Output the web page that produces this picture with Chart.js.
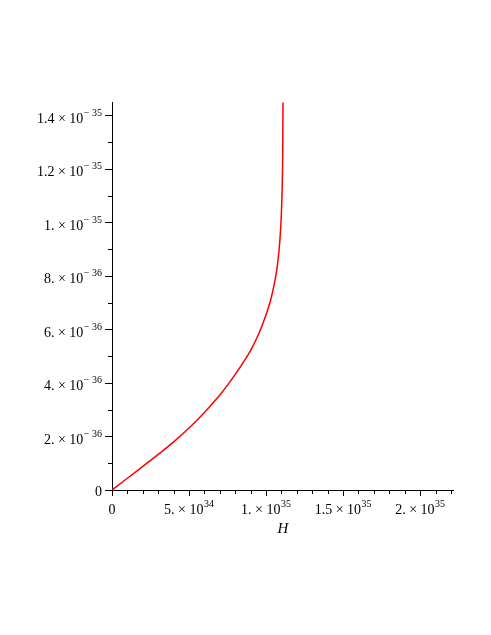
<!DOCTYPE html>
<html>
<head>
<meta charset="utf-8">
<script src="https://cdn.jsdelivr.net/npm/chart.js@4.4.1/dist/chart.umd.min.js"></script>
<style>
  html, body { margin: 0; padding: 0; background: #fff; }
  #wrap { width: 491px; height: 635px; }
</style>
</head>
<body>
<div id="wrap"><canvas id="plot" width="491" height="635"></canvas></div>
<script>
// curve (H in units of 1e34, value in units of 1e-36)
const hValues = [0, 1, 2, 3, 4, 5, 6, 7, 7.5, 8, 8.5, 9, 9.5, 10, 10.3, 10.55, 10.75, 10.9, 11.0, 11.05, 11.08, 11.1];
const yValues = [0, 0.44, 0.88, 1.33, 1.80, 2.32, 2.90, 3.55, 3.92, 4.32, 4.75, 5.22, 5.80, 6.55, 7.1, 7.75, 8.45, 9.35, 10.4, 11.4, 12.5, 14.48];

// axis ticks
const xTickValues = [0, 5e34, 1e35, 1.5e35, 2e35];
const xTickMant = ['0', '5.', '1.', '1.5', '2.'];
const xTickExp = ['', '34', '35', '35', '35'];
const yTickValues = [0, 2e-36, 4e-36, 6e-36, 8e-36, 1e-35, 1.2e-35, 1.4e-35];
const yTickMant = ['0', '2.', '4.', '6.', '8.', '1.', '1.2', '1.4'];
const yTickExp = ['', '\u2212 36', '\u2212 36', '\u2212 36', '\u2212 36', '\u2212 35', '\u2212 35', '\u2212 35'];
const xMinorStep = 1e34;
const yMinorStep = 1e-36;
const xMax = 2.22e35;
const yMax = 1.45e-35;

const points = hValues.map((h, i) => ({ x: h * 1e34, y: yValues[i] * 1e-36 }));

const mainFont = '14px "Liberation Serif", "Times New Roman", serif';
const supFont = '10px "Liberation Serif", "Times New Roman", serif';

// draws the Maple-style axes, ticks and labels
const axesPlugin = {
    id: 'mapleAxes',
    beforeDatasetsDraw(chart) {
        const { ctx, chartArea: a } = chart;
        const xs = chart.scales.x, ys = chart.scales.y;
        const x0 = xs.getPixelForValue(0), y0 = ys.getPixelForValue(0);
        ctx.save();
        ctx.strokeStyle = '#000';
        ctx.lineWidth = 1;
        ctx.beginPath();
        ctx.moveTo(x0 + 0.5, a.top);
        ctx.lineTo(x0 + 0.5, y0 + 0.5);
        ctx.moveTo(x0, y0 + 0.5);
        ctx.lineTo(a.right, y0 + 0.5);
        // x ticks
        for (let v = 0; v <= xMax + 1; v += xMinorStep) {
            const px = Math.round(xs.getPixelForValue(v)) + 0.5;
            const major = Math.round(v / xMinorStep) % 5 === 0;
            ctx.moveTo(px, y0);
            ctx.lineTo(px, y0 + (major ? 6 : 4));
        }
        // y ticks
        for (let v = 0; v <= yMax * 1.0001; v += yMinorStep) {
            const py = Math.round(ys.getPixelForValue(v)) + 0.5;
            const major = Math.round(v / yMinorStep) % 2 === 0;
            ctx.moveTo(x0, py);
            ctx.lineTo(x0 - (major ? 7 : 4), py);
        }
        ctx.stroke();
        ctx.restore();
    },
    afterDraw(chart) {
        const { ctx } = chart;
        const xs = chart.scales.x, ys = chart.scales.y;
        ctx.save();
        ctx.fillStyle = '#000';
        ctx.textBaseline = 'alphabetic';
        ctx.textAlign = 'left';

        const labelWidth = (m, e) => {
            ctx.font = mainFont;
            let w = ctx.measureText(e ? m + ' \u00d7 10' : m).width;
            if (e) { ctx.font = supFont; w += ctx.measureText(e).width + 0.5; }
            return w;
        };
        const drawLabel = (m, e, left, base) => {
            ctx.font = mainFont;
            const t = e ? m + ' \u00d7 10' : m;
            ctx.fillText(t, left, base);
            if (e) {
                const w = ctx.measureText(t).width;
                ctx.font = supFont;
                ctx.fillText(e, left + w + 0.5, base - 7);
            }
        };

        xTickValues.forEach((v, i) => {
            const px = xs.getPixelForValue(v);
            const w = labelWidth(xTickMant[i], xTickExp[i]);
            drawLabel(xTickMant[i], xTickExp[i], px - w / 2, 514);
        });

        yTickValues.forEach((v, i) => {
            const py = ys.getPixelForValue(v);
            const w = labelWidth(yTickMant[i], yTickExp[i]);
            const base = yTickExp[i] ? py + 7.5 : py + 5.5;
            drawLabel(yTickMant[i], yTickExp[i], 102 - w, base);
        });

        ctx.font = 'italic 15px "Liberation Serif", "Times New Roman", serif';
        ctx.textAlign = 'center';
        ctx.fillText('H', 283, 533);
        ctx.restore();
    }
};

const config = {
    type: 'scatter',
    data: {
        datasets: [{
            data: points,
            showLine: true,
            borderColor: '#ff0000',
            borderWidth: 1.5,
            pointRadius: 0,
            cubicInterpolationMode: 'monotone',
            fill: false
        }]
    },
    options: {
        responsive: false,
        animation: false,
        layout: { padding: { left: 112, right: 37, top: 102, bottom: 145 } },
        plugins: { legend: { display: false }, tooltip: { enabled: false } },
        scales: {
            x: { type: 'linear', min: 0, max: xMax, display: false },
            y: { type: 'linear', min: 0, max: yMax, display: false }
        }
    },
    plugins: [axesPlugin]
};

new Chart(document.getElementById('plot').getContext('2d'), config);
</script>
</body>
</html>
